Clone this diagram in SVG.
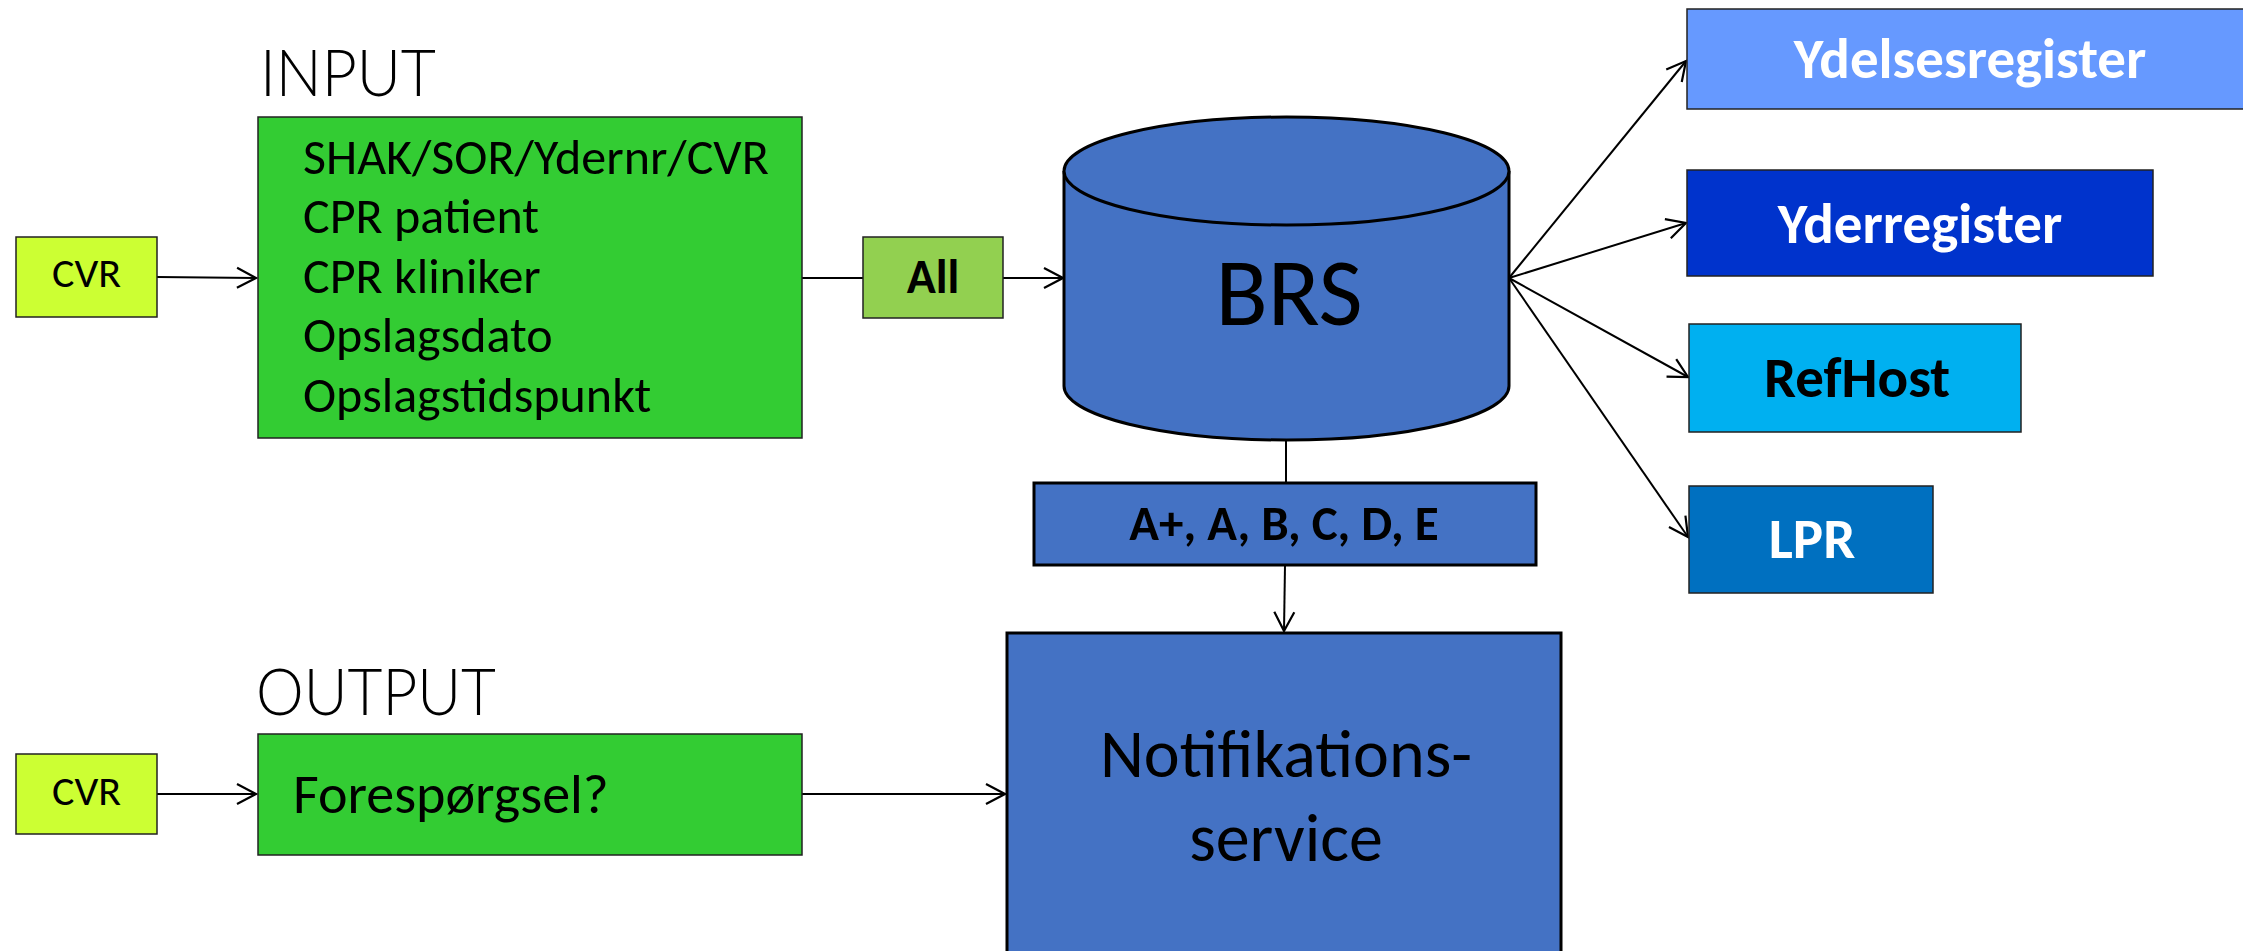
<svg xmlns="http://www.w3.org/2000/svg" width="2243" height="951" viewBox="0 0 2243 951">
<style>
text{font-family:Carlito,Lato,"Liberation Sans",sans-serif;fill:#000}
.b{font-weight:bold}
.w{fill:#fff}
.lt{font-family:Lato,"Open Sans",sans-serif;font-weight:300}
.thin{stroke:#222;stroke-width:1.5}
.thick{stroke:#000;stroke-width:3}
.c{stroke:#000;stroke-width:2;fill:none}
</style>
<defs>
<marker id="ar" markerUnits="userSpaceOnUse" markerWidth="24" markerHeight="24" viewBox="-22 -12 24 24" refX="0" refY="0" orient="auto">
<path d="M-19,-10 L0,0 L-19,10" fill="none" stroke="#000" stroke-width="2.2"/>
</marker>
</defs>
<rect width="2243" height="951" fill="#fff"/>

<text id="lbl-input" class="lt" x="260" y="96" font-size="66" textLength="176" lengthAdjust="spacingAndGlyphs">INPUT</text>
<text id="lbl-output" class="lt" x="256" y="715" font-size="66" textLength="240" lengthAdjust="spacingAndGlyphs">OUTPUT</text>

<g id="connectors">
<line class="c" x1="157" y1="277" x2="256" y2="278" marker-end="url(#ar)"/>
<line class="c" x1="802" y1="278" x2="863" y2="278"/>
<line class="c" x1="1003" y1="278" x2="1063" y2="278" marker-end="url(#ar)"/>
<line class="c" x1="1509" y1="278" x2="1686" y2="61" marker-end="url(#ar)"/>
<line class="c" x1="1509" y1="278" x2="1686" y2="223" marker-end="url(#ar)"/>
<line class="c" x1="1509" y1="278" x2="1688" y2="377" marker-end="url(#ar)"/>
<line class="c" x1="1509" y1="278" x2="1688" y2="537" marker-end="url(#ar)"/>
<line class="c" x1="1286" y1="440" x2="1286" y2="483"/>
<line class="c" x1="1285" y1="565" x2="1284" y2="631" marker-end="url(#ar)"/>
<line class="c" x1="157" y1="794" x2="256" y2="794" marker-end="url(#ar)"/>
<line class="c" x1="802" y1="794" x2="1005" y2="794" marker-end="url(#ar)"/>
</g>

<g id="cvr-in">
<rect class="thin" x="16" y="237" width="141" height="80" fill="#CCFF33"/>
<text x="86.5" y="287" font-size="42" text-anchor="middle">CVR</text>
</g>

<g id="input">
<rect class="thin" x="258" y="117" width="544" height="321" fill="#33CC33"/>
<text x="303" y="174" font-size="50">SHAK/SOR/Ydernr/CVR</text>
<text x="303" y="233" font-size="50">CPR patient</text>
<text x="303" y="293" font-size="50">CPR kliniker</text>
<text x="303" y="352" font-size="50">Opslagsdato</text>
<text x="303" y="412" font-size="50">Opslagstidspunkt</text>
</g>

<g id="all">
<rect class="thin" x="863" y="237" width="140" height="81" fill="#92D050"/>
<text class="b" x="933" y="293" font-size="48" text-anchor="middle">All</text>
</g>

<g id="brs">
<path d="M1064,171 L1064,386 A222.5,54 0 0 0 1509,386 L1509,171" fill="#4472C4" stroke="#000" stroke-width="3"/>
<ellipse cx="1286.5" cy="171" rx="222.5" ry="54" fill="#4472C4" stroke="#000" stroke-width="3"/>
<text x="1289" y="325" font-size="96" text-anchor="middle">BRS</text>
</g>

<g id="classes">
<rect class="thick" x="1034" y="483" width="502" height="82" fill="#4472C4"/>
<text class="b" x="1284" y="540" font-size="49" text-anchor="middle">A+, A, B, C, D, E</text>
</g>

<g id="notif">
<rect class="thick" x="1007" y="633" width="554" height="340" fill="#4472C4"/>
<text x="1286" y="777" font-size="68" text-anchor="middle">Notifikations-</text>
<text x="1286" y="861" font-size="68" text-anchor="middle">service</text>
</g>

<g id="cvr-out">
<rect class="thin" x="16" y="754" width="141" height="80" fill="#CCFF33"/>
<text x="86.5" y="805" font-size="42" text-anchor="middle">CVR</text>
</g>

<g id="foresp">
<rect class="thin" x="258" y="734" width="544" height="121" fill="#33CC33"/>
<text x="293" y="813" font-size="56">Forespørgsel?</text>
</g>

<g id="ydelses">
<rect class="thin" x="1687" y="9" width="570" height="100" fill="#6699FF"/>
<text class="b w" x="1970" y="78" font-size="57" text-anchor="middle">Ydelsesregister</text>
</g>

<g id="yder">
<rect class="thin" x="1687" y="170" width="466" height="106" fill="#0033CC"/>
<text class="b w" x="1920" y="243" font-size="57" text-anchor="middle">Yderregister</text>
</g>

<g id="refhost">
<rect class="thin" x="1689" y="324" width="332" height="108" fill="#00B0F0"/>
<text class="b" x="1857" y="397" font-size="57" text-anchor="middle">RefHost</text>
</g>

<g id="lpr">
<rect class="thin" x="1689" y="486" width="244" height="107" fill="#0070C0"/>
<text class="b w" x="1812" y="558" font-size="57" text-anchor="middle">LPR</text>
</g>
</svg>
